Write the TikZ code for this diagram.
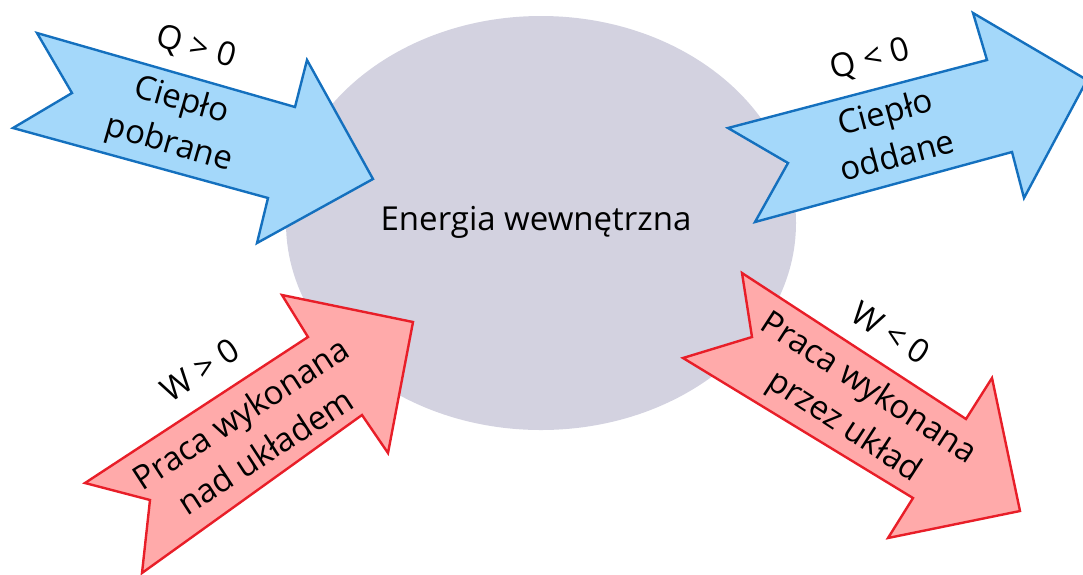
\documentclass[tikz,border=0pt]{standalone}
\usepackage{fontspec}
\setmainfont{Open Sans}
\usetikzlibrary{shapes.geometric}
\definecolor{ellfill}{RGB}{211,210,224}
\definecolor{bluefill}{RGB}{164,216,250}
\definecolor{bluedraw}{RGB}{20,112,190}
\definecolor{redfill}{RGB}{255,170,170}
\definecolor{reddraw}{RGB}{232,30,40}
\tikzset{
  bluearrow/.style={fill=bluefill,draw=bluedraw,line width=2.4pt,line join=miter},
  redarrow/.style={fill=redfill,draw=reddraw,line width=2.4pt,line join=miter},
  lbl/.style={font=\fontsize{33}{45}\selectfont,inner sep=0pt,align=center},
}
\begin{document}
\begin{tikzpicture}[x=1pt,y=-1pt]
\useasboundingbox (0,0) rectangle (1083,574);
\node[ellipse,fill=ellfill,minimum width=510pt,minimum height=414pt,inner sep=0pt] (energy) at (541,223) {};
\node[lbl] (energytext) at (536,222) {Energia wewnętrzna};
% arrow 1 (blue, top-left)
\draw[bluearrow] (37,33) -- (295,107) -- (307,60) -- (373,179) -- (257,243) -- (268,198) -- (13,128) -- (72,93) -- cycle;
\node[lbl,rotate=-16] (q1) at (196,48) {Q > 0};
\node[lbl,rotate=-16] (c1) at (175,123) {Ciepło\\pobrane};
% arrow 2 (blue, top-right)
\draw[bluearrow] (728,128) -- (987,60) -- (973,13) -- (1087,80) -- (1024,198) -- (1012,152) -- (755,222) -- (788,163) -- cycle;
\node[lbl,rotate=15] (q2) at (870,60) {Q < 0};
\node[lbl,rotate=15] (c2) at (891,133) {Ciepło\\oddane};
% arrow 3 (red, bottom-left)
\draw[redarrow] (85,483) -- (308,337) -- (282,295) -- (413,322) -- (388,453) -- (362,415) -- (142,573) -- (150,500) -- cycle;
\node[lbl,rotate=33] (w1) at (200,370) {W > 0};
\node[lbl,rotate=33] (p1) at (253,432) {Praca wykonana\\nad układem};
% arrow 4 (red, bottom-right)
\draw[redarrow] (683,358) -- (752,337) -- (742,273) -- (966,419) -- (992,378) -- (1020,511) -- (888,538) -- (913,498) -- cycle;
\node[lbl,rotate=-33] (w2) at (891,333) {W < 0};
\node[lbl,rotate=-33] (p2) at (856,408) {Praca wykonana\\przez układ};
\end{tikzpicture}
\end{document}
